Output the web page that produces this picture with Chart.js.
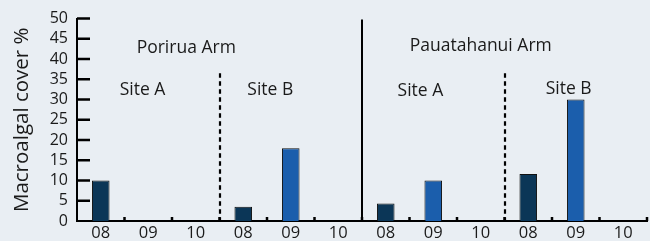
<!DOCTYPE html>
<html>
<head>
<meta charset="utf-8">
<script src="https://cdn.jsdelivr.net/npm/chart.js@4"></script>
<style>
  html, body { margin: 0; padding: 0; background: #e9eef3; }
  #wrap { width: 650px; height: 241px; }
</style>
</head>
<body>
<div id="wrap"><canvas id="macroChart" width="650" height="241"></canvas></div>
<script>
// Data
const years = ['08', '09', '10', '08', '09', '10', '08', '09', '10', '08', '09', '10'];
const cover = [10, null, null, 3.5, 18, null, 4.3, 10, null, 11.6, 30, null];
const yearColors = { '08': '#0b3657', '09': '#1b5eac', '10': '#1b5eac' };
const yTicks = [0, 5, 10, 15, 20, 25, 30, 35, 40, 45, 50];

// Group labels: [text, category position, y value]
const armLabels = [['Porirua Arm', 1.8, 42.8], ['Pauatahanui Arm', 8.0, 43.3]];
const siteLabels = [['Site A', 0.88, 32.4], ['Site B', 3.57, 32.4], ['Site A', 6.73, 32.2], ['Site B', 9.85, 32.6]];
const armDivider = 5.5;         // solid line between the two arms
const siteDividers = [2.5, 8.5]; // dotted lines between sites
const siteDividerTop = 36.5;

const font = '"Open Sans", "DejaVu Sans", sans-serif';

const overlay = {
    id: 'overlay',
    beforeDraw(chart) {
        const ctx = chart.ctx;
        ctx.save();
        ctx.fillStyle = '#e9eef3';
        ctx.fillRect(0, 0, chart.width, chart.height);
        ctx.restore();
    },
    afterDraw(chart) {
        const ctx = chart.ctx;
        const xs = chart.scales.x;
        const ys = chart.scales.y;
        const left = chart.chartArea.left;
        const y0 = ys.getPixelForValue(0);
        ctx.save();
        ctx.strokeStyle = '#000';
        ctx.lineCap = 'butt';

        // inward tick marks on the y axis
        ctx.lineWidth = 2.5;
        ctx.beginPath();
        for (const v of yTicks) {
            if (v === 0) continue;
            const py = ys.getPixelForValue(v);
            ctx.moveTo(left, py);
            ctx.lineTo(left + 13, py);
        }
        ctx.stroke();

        // upward tick marks at category boundaries
        ctx.lineWidth = 2.5;
        ctx.beginPath();
        for (let i = 0; i < years.length; i++) {
            const px = xs.getPixelForValue(i + 0.5);
            ctx.moveTo(px, y0);
            ctx.lineTo(px, y0 - 4);
        }
        ctx.stroke();

        // solid divider
        ctx.lineWidth = 2;
        const ax = Math.round(xs.getPixelForValue(armDivider));
        ctx.beginPath();
        ctx.moveTo(ax, ys.getPixelForValue(50) + 1);
        ctx.lineTo(ax, y0);
        ctx.stroke();

        // dotted dividers
        ctx.lineWidth = 2.2;
        ctx.setLineDash([4.5, 3.5]);
        siteDividers.forEach(d => {
            const px = Math.round(xs.getPixelForValue(d));
            ctx.beginPath();
            ctx.moveTo(px, ys.getPixelForValue(siteDividerTop));
            ctx.lineTo(px, y0);
            ctx.stroke();
        });
        ctx.setLineDash([]);

        // group labels
        ctx.fillStyle = '#1a1a1a';
        ctx.textAlign = 'center';
        ctx.textBaseline = 'middle';
        ctx.font = '17.5px ' + font;
        armLabels.concat(siteLabels).forEach(([t, c, v]) => {
            ctx.fillText(t, xs.getPixelForValue(c), ys.getPixelForValue(v));
        });
        ctx.restore();
    }
};

new Chart(document.getElementById('macroChart'), {
    type: 'bar',
    data: {
        labels: years,
        datasets: [{
            data: cover,
            backgroundColor: years.map(yr => yearColors[yr]),
            borderColor: '#111',
            borderWidth: 1,
            barPercentage: 0.37,
            categoryPercentage: 1
        }]
    },
    options: {
        responsive: false,
        animation: false,
        layout: { padding: { left: 0, top: 16, right: 3, bottom: 0 } },
        plugins: { legend: { display: false }, tooltip: { enabled: false } },
        scales: {
            x: {
                grid: { display: false, drawTicks: false },
                border: { display: true, color: '#000', width: 2 },
                ticks: { color: '#1a1a1a', font: { family: font, size: 16.5 }, padding: 2, maxRotation: 0 },
                afterFit(scale) { scale.height = 20; }
            },
            y: {
                min: 0,
                max: 50,
                grid: { display: false, drawTicks: false },
                border: { display: true, color: '#000', width: 2 },
                ticks: {
                    stepSize: 5,
                    autoSkip: false,
                    color: '#1a1a1a',
                    font: { family: font, size: 16 },
                    padding: 9
                },
                title: {
                    display: true,
                    text: 'Macroalgal cover %',
                    color: '#1a1a1a',
                    font: { family: font, size: 20.5 },
                    padding: { top: 10, bottom: 0 }
                },
                afterFit(scale) { scale.width = 77; }
            }
        }
    },
    plugins: [overlay]
});
</script>
</body>
</html>
